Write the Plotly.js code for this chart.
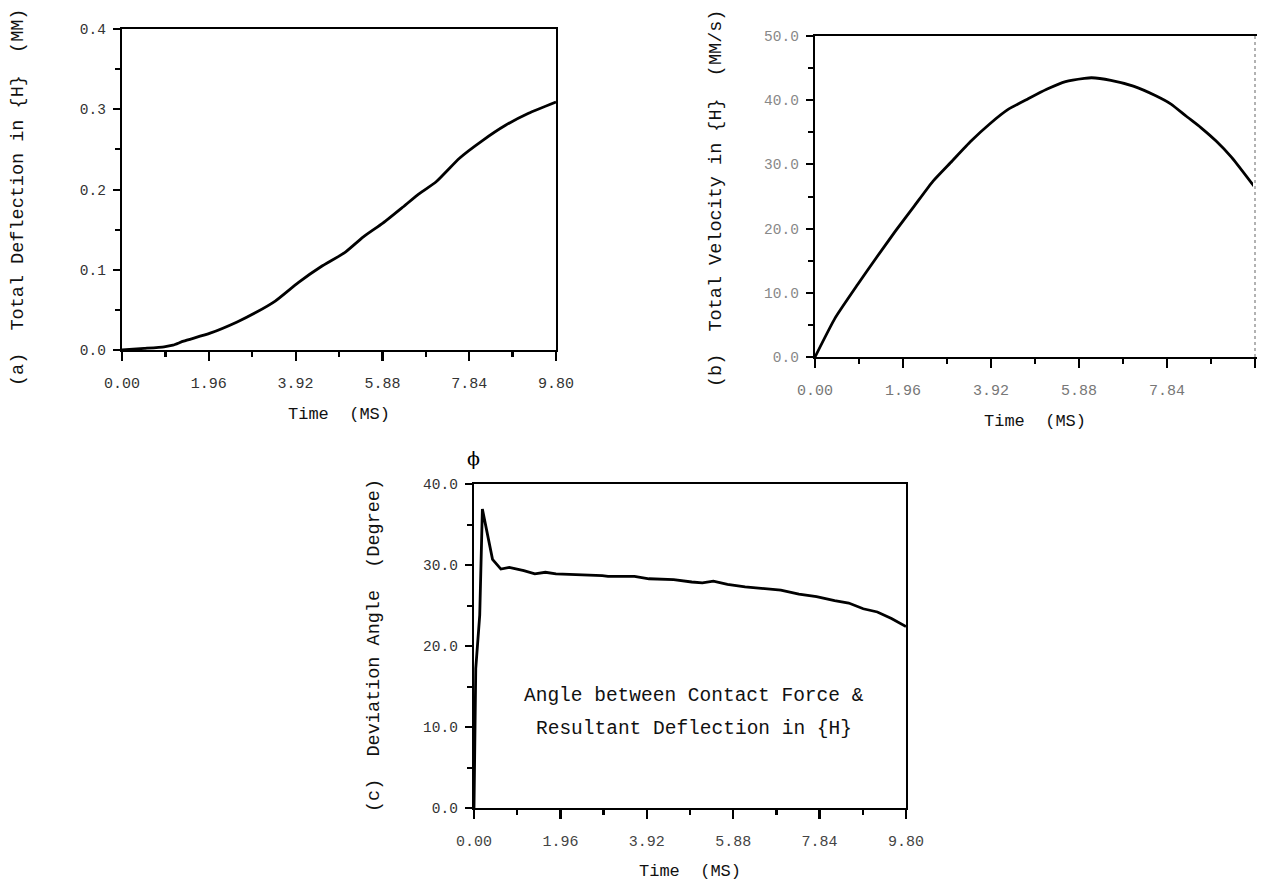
<!DOCTYPE html>
<html>
<head>
<meta charset="utf-8">
<script src="https://cdn.plot.ly/plotly-3.0.1.min.js"></script>
<style>html,body{margin:0;padding:0;background:#fff;}#chart{width:1272px;height:881px;}</style>
</head>
<body>
<div id="chart"></div>
<script>
// ---- Data ----
const timeTicks = [0.00, 1.96, 3.92, 5.88, 7.84, 9.80];

// (a) Total deflection in {H} (MM)
const defTime = [0, 0.5, 0.95, 1.15, 1.39, 1.99, 2.6, 3.03, 3.46, 3.98, 4.50, 5.02, 5.45, 5.89, 6.32, 6.67, 7.10, 7.62, 8.14, 8.66, 9.18, 9.80];
const defVal  = [0, 0.002, 0.004, 0.006, 0.011, 0.021, 0.035, 0.047, 0.061, 0.084, 0.104, 0.121, 0.141, 0.158, 0.177, 0.193, 0.210, 0.239, 0.261, 0.280, 0.295, 0.309];

// (b) Total velocity in {H} (MM/s)
const velTime = [0, 0.45, 0.95, 1.37, 1.79, 2.21, 2.63, 3.05, 3.47, 3.89, 4.31, 4.74, 5.16, 5.58, 6.00, 6.16, 6.59, 7.09, 7.59, 7.93, 8.27, 8.60, 8.94, 9.28, 9.80];
const velVal  = [0, 6.1, 11.3, 15.5, 19.6, 23.5, 27.4, 30.5, 33.6, 36.3, 38.6, 40.2, 41.7, 42.9, 43.4, 43.5, 43.1, 42.2, 40.7, 39.4, 37.5, 35.7, 33.6, 31.1, 26.4];

// (c) Deviation angle (Degree)
const angTime = [0, 0.04, 0.13, 0.19, 0.42, 0.61, 0.80, 1.13, 1.38, 1.62, 1.86, 2.51, 2.91, 3.04, 3.64, 3.97, 4.53, 4.94, 5.18, 5.43, 5.75, 6.15, 6.56, 6.96, 7.37, 7.77, 8.18, 8.50, 8.83, 9.15, 9.47, 9.80];
const angVal  = [0, 17.2, 23.8, 36.9, 30.7, 29.5, 29.7, 29.3, 28.9, 29.1, 28.9, 28.8, 28.7, 28.6, 28.6, 28.3, 28.2, 27.9, 27.8, 28.0, 27.6, 27.3, 27.1, 26.9, 26.4, 26.1, 25.6, 25.3, 24.6, 24.2, 23.4, 22.4];

const annotationLines = ["Angle between Contact Force &", "Resultant Deflection in {H}"];
const annotationY = [13.8, 9.75];
const yTitles = ["(a)  Total Deflection in {H}  (MM)", "(b)  Total Velocity in {H}  (MM/s)", "(c)  Deviation Angle  (Degree)"];
const xTitle = "Time  (MS)";

// ---- Styling ----
const W = 1272, H = 881;
const FONT = "Liberation Mono, Courier New, monospace";
const px = v => v / W;
const py = v => 1 - v / H;

const lineStyle = {color: "#000", width: 2.8};

function xAxis(domain, anchor, labelColor) {
  return {
    domain: domain, anchor: anchor, range: [0, 9.8],
    tickmode: "array", tickvals: timeTicks, ticktext: timeTicks.map(v => v.toFixed(2)),
    ticks: "outside", ticklen: 9, tickwidth: 2.2, tickcolor: "#000",
    ticklabelstandoff: 9,
    minor: {tickmode: "linear", tick0: 0, dtick: 0.98, ticks: "outside", ticklen: 5, tickwidth: 2.2, tickcolor: "#000"},
    showline: true, linecolor: "#000", linewidth: 2.2, mirror: true,
    showgrid: false, zeroline: false,
    tickfont: {family: FONT, size: 15, color: labelColor},
    title: {text: xTitle, font: {family: FONT, size: 17, color: "#111"}, standoff: 15}
  };
}
function yAxis(domain, anchor, range, dtick, minorD, labelColor) {
  return {
    domain: domain, anchor: anchor, range: range,
    tickmode: "linear", tick0: 0, dtick: dtick, tickformat: ".1f",
    ticks: "outside", ticklen: 7, tickwidth: 2, tickcolor: "#000",
    ticklabelstandoff: 4,
    minor: {tickmode: "linear", tick0: 0, dtick: minorD, ticks: "outside", ticklen: 5, tickwidth: 2, tickcolor: "#000"},
    showline: true, linecolor: "#000", linewidth: 2.2, mirror: true,
    showgrid: false, zeroline: false,
    tickfont: {family: FONT, size: 14.5, color: labelColor}
  };
}

const dA = {x: [px(122), px(556)], y: [py(350), py(29)]};
const dB = {x: [px(815), px(1255)], y: [py(357), py(36)]};
const dC = {x: [px(474), px(906)], y: [py(808), py(484)]};

const traces = [
  {x: defTime, y: defVal, xaxis: "x", yaxis: "y", mode: "lines", line: Object.assign({shape: "spline", smoothing: 0.5}, lineStyle)},
  {x: velTime, y: velVal, xaxis: "x2", yaxis: "y2", mode: "lines", line: Object.assign({shape: "spline", smoothing: 0.5}, lineStyle)},
  {x: angTime, y: angVal, xaxis: "x3", yaxis: "y3", mode: "lines", line: lineStyle}
];

const titleFont = {family: FONT, size: 18.5, color: "#111"};
const layout = {
  width: W, height: H,
  margin: {l: 0, r: 0, t: 0, b: 0},
  paper_bgcolor: "#fff", plot_bgcolor: "#fff",
  showlegend: false,
  xaxis: xAxis(dA.x, "y", "#333"),
  yaxis: yAxis(dA.y, "x", [0, 0.4], 0.1, 0.05, "#333"),
  xaxis2: xAxis(dB.x, "y2", "#777"),
  yaxis2: yAxis(dB.y, "x2", [0, 50], 10, 5, "#888"),
  xaxis3: xAxis(dC.x, "y3", "#444"),
  yaxis3: yAxis(dC.y, "x3", [0, 40], 10, 5, "#333"),
  shapes: [
    {type: "line", xref: "x2 domain", yref: "y2 domain", x0: 1, x1: 1, y0: 0, y1: 1, line: {color: "#fff", width: 4}},
    {type: "line", xref: "x2 domain", yref: "y2 domain", x0: 1, x1: 1, y0: 0, y1: 1, line: {color: "#999", width: 1.5, dash: "dot"}}
  ],
  annotations: [
    {xref: "paper", yref: "paper", x: px(19), y: py(198), text: yTitles[0], textangle: -90, showarrow: false, xanchor: "center", yanchor: "middle", font: titleFont},
    {xref: "paper", yref: "paper", x: px(717), y: py(199), text: yTitles[1], textangle: -90, showarrow: false, xanchor: "center", yanchor: "middle", font: titleFont},
    {xref: "paper", yref: "paper", x: px(374), y: py(646), text: yTitles[2], textangle: -90, showarrow: false, xanchor: "center", yanchor: "middle", font: titleFont},
    {xref: "x3", yref: "y3", x: 5.0, y: annotationY[0], text: annotationLines[0], showarrow: false, xanchor: "center", yanchor: "middle", font: {family: FONT, size: 19.5, color: "#111"}},
    {xref: "x3", yref: "y3", x: 5.0, y: annotationY[1], text: annotationLines[1], showarrow: false, xanchor: "center", yanchor: "middle", font: {family: FONT, size: 19.5, color: "#111"}},
    {xref: "x3", yref: "paper", x: 0, y: py(458), text: "ϕ", showarrow: false, xanchor: "center", yanchor: "middle", font: {family: "DejaVu Serif, serif", size: 19, color: "#000"}}
  ]
};

Plotly.newPlot("chart", traces, layout, {staticPlot: true, displayModeBar: false});
</script>
</body>
</html>
